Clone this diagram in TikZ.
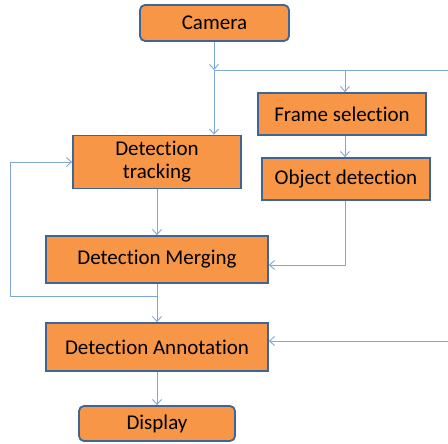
\documentclass[tikz,border=0pt]{standalone}
\usepackage{fontspec}
\setmainfont{Carlito}[Ligatures={NoCommon}]
\usetikzlibrary{arrows.meta}
\definecolor{boxfill}{HTML}{F79646}
\definecolor{boxline}{HTML}{3F6496}
\definecolor{conn}{HTML}{7EA6D9}
\begin{document}
\begin{tikzpicture}[x=1pt,y=-1pt,
  box/.style={draw=boxline,line width=1.8pt,fill=boxfill,inner sep=0pt,align=center,
    font=\fontsize{21}{23}\selectfont},
  rbox/.style={box,rounded corners=5pt},
  conn/.style={draw=conn,line width=0.9pt},
  arr/.style={conn,-{Straight Barb[length=5pt,width=9pt,line width=0.9pt]}}]
\useasboundingbox (0,0) rectangle (448,444);
\node[rbox,minimum width=149pt,minimum height=36pt] (cam) at (214.5,23) {Camera};
\node[box,minimum width=168pt,minimum height=42pt] (fs) at (342,114) {Frame selection};
\node[box,minimum width=168pt,minimum height=42pt] (od) at (346,179) {Object detection};
\node[box,minimum width=168pt,minimum height=53pt] (dt) at (157,162) {Detection\\tracking};
\node[box,minimum width=222pt,minimum height=47pt] (dm) at (157,259.5) {Detection Merging};
\node[box,minimum width=222pt,minimum height=48pt] (da) at (157,347) {Detection Annotation};
\node[rbox,minimum width=156pt,minimum height=35pt] (dp) at (157,423.5) {Display};
\coordinate (j) at (214,70);
\coordinate (jr) at (448,70);
\coordinate (jf) at (345,70);
\coordinate (ml) at (157,296);
\coordinate (lc) at (10,296);
\coordinate (ar) at (448,341);
\draw[arr] (cam.south -| j) -- (j);
\draw[arr] (j) -- (j |- dt.north);
\draw[conn] (j) -- (jr);
\draw[arr] (jf) -- (jf |- fs.north);
\draw[arr] (jf |- fs.south) -- (jf |- od.north);
\draw[arr] (jf |- od.south) -- (345,265) -- (dm.east |- 0,265);
\draw[arr] (dt.south) -- (dm.north);
\draw[arr] (dm.south) -- (da.north);
\draw[arr] (ml) -- (lc) -- (10,162) -- (dt.west);
\draw[arr] (ar) -- (da.east |- ar);
\draw[arr] (da.south) -- (dp.north);
\end{tikzpicture}
\end{document}
